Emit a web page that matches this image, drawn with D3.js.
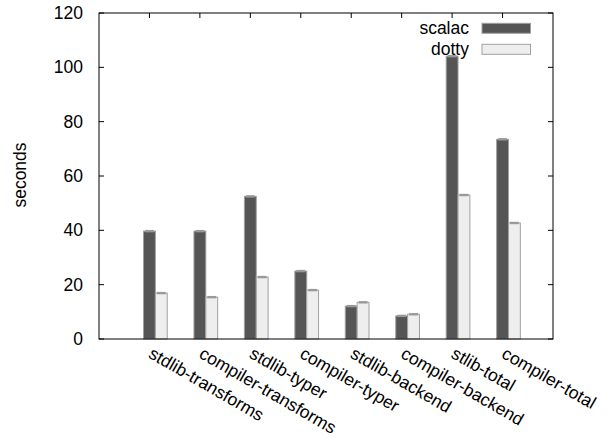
<!DOCTYPE html>
<html><head><meta charset="utf-8">
<script src="https://cdn.jsdelivr.net/npm/d3@7"></script>
<style>body{margin:0;background:#fff;} text{font-family:"Liberation Sans",Arial,sans-serif;}</style>
</head><body>
<svg id="c" width="608" height="438"></svg>
<script>
const categories = ["stdlib-transforms","compiler-transforms","stdlib-typer","compiler-typer","stdlib-backend","compiler-backend","stlib-total","compiler-total"];
const scalac = [39.7, 39.7, 52.5, 25.0, 12.1, 8.5, 104.1, 73.5];
const dotty  = [16.9, 15.4, 22.8, 18.0, 13.5, 9.1, 53.0, 42.7];
const seriesNames = ["scalac","dotty"];
const yTicks = [0,20,40,60,80,100,120];

const svg = d3.select("#c");
const L=99, R=553, T=13, B=339;
const x = d3.scaleLinear().domain([-1,8]).range([L,R]);
const y = d3.scaleLinear().domain([0,120]).range([B,T]);
const fills = ["#555555","#eeeeee"];
const bw = 0.235;

// bars
const series = [scalac, dotty];
series.forEach((vals, s) => {
  const g = svg.append("g");
  vals.forEach((v, i) => {
    const x0 = x(i - bw/2 + s*bw), x1 = x(i + bw/2 + s*bw);
    g.append("rect").attr("x", x0).attr("y", y(v)).attr("width", x1-x0).attr("height", y(0)-y(v))
      .attr("fill", fills[s]).attr("stroke", "#a0a0a0").attr("stroke-width", 1);
    g.append("rect").attr("x", x0+1.5).attr("y", y(v)-1.2).attr("width", x1-x0-3).attr("height", 2.4)
      .attr("fill", "#999");
  });
});

// frame
svg.append("rect").attr("x",L).attr("y",T).attr("width",R-L).attr("height",B-T)
  .attr("fill","none").attr("stroke","#000").attr("stroke-width",1);

// y ticks
yTicks.forEach(t => {
  svg.append("line").attr("x1",L).attr("x2",L+5).attr("y1",y(t)).attr("y2",y(t)).attr("stroke","#000");
  svg.append("line").attr("x1",R).attr("x2",R-5).attr("y1",y(t)).attr("y2",y(t)).attr("stroke","#000");
  svg.append("text").attr("x",L-16).attr("y",y(t)+6).attr("text-anchor","end")
    .attr("font-size",17.5).attr("fill","#000").text(t);
});
// x ticks (top mirror)
categories.forEach((c,i) => {
  svg.append("line").attr("x1",x(i)).attr("x2",x(i)).attr("y1",T).attr("y2",T+5).attr("stroke","#000");
  svg.append("text").attr("transform",`translate(${x(i)-2},357) rotate(30)`)
    .attr("font-size",17.5).attr("fill","#000").text(c);
});

// y label
svg.append("text").attr("transform","translate(26,175) rotate(-90)").attr("text-anchor","middle")
  .attr("font-size",17.5).attr("fill","#000").text("seconds");

// legend
seriesNames.forEach((n,s) => {
  const cy = 28.3 + s*21;
  svg.append("text").attr("x",469).attr("y",cy+6).attr("text-anchor","end")
    .attr("font-size",17.5).attr("fill","#000").text(n);
  svg.append("rect").attr("x",482).attr("y",cy-5).attr("width",48.5).attr("height",10)
    .attr("fill",fills[s]).attr("stroke","#a0a0a0").attr("stroke-width",1);
});
</script>
</body></html>
